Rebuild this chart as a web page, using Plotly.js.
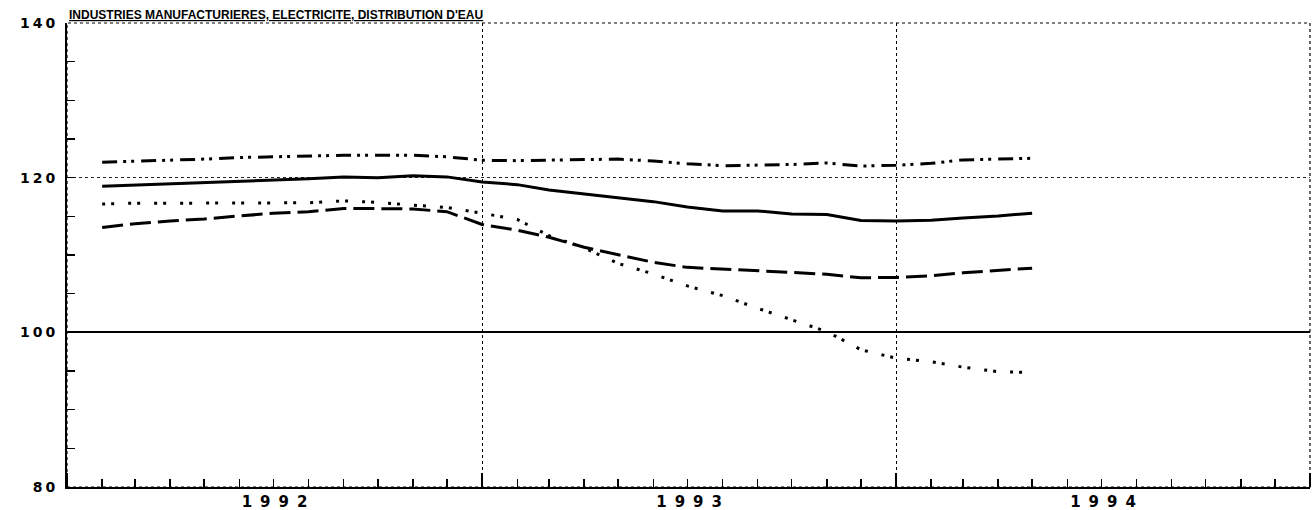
<!DOCTYPE html>
<html><head><meta charset="utf-8">
<script src="https://cdn.plot.ly/plotly-3.0.1.min.js"></script>
<style>
html,body{margin:0;padding:0;background:#fff;}
#chart{width:1316px;height:510px;}
.xtick text{letter-spacing:8px;}
.ytick text{letter-spacing:3px;}
</style></head><body><div id="chart"></div>
<script>
const months = ['1992-02-01','1992-03-01','1992-04-01','1992-05-01','1992-06-01','1992-07-01','1992-08-01','1992-09-01','1992-10-01','1992-11-01','1992-12-01',
  '1993-01-01','1993-02-01','1993-03-01','1993-04-01','1993-05-01','1993-06-01','1993-07-01','1993-08-01','1993-09-01','1993-10-01','1993-11-01','1993-12-01',
  '1994-01-01','1994-02-01','1994-03-01','1994-04-01','1994-05-01'];
const serieMixte = [122.0,122.1,122.25,122.4,122.6,122.7,122.75,122.9,122.9,122.9,122.7,122.25,122.2,122.25,122.3,122.4,122.15,121.8,121.55,121.6,121.7,121.9,121.5,121.6,121.85,122.3,122.45,122.5];
const serieContinue = [118.9,119.05,119.2,119.4,119.55,119.75,119.85,120.1,120.0,120.25,120.1,119.45,119.1,118.4,117.9,117.45,116.9,116.2,115.7,115.7,115.3,115.25,114.45,114.4,114.5,114.8,115.05,115.4];
const seriePointillee = [116.6,116.7,116.7,116.7,116.7,116.7,116.75,117.0,116.8,116.45,116.15,115.4,114.6,112.5,110.9,108.9,107.55,106.0,104.75,103.1,101.6,100.1,97.75,96.65,96.2,95.5,94.9,94.8];
const serieTiretee = [113.55,114.05,114.4,114.65,115.05,115.4,115.6,116.0,116.0,115.95,115.6,113.95,113.2,112.3,111.0,110.0,109.05,108.4,108.2,107.95,107.75,107.5,107.05,107.1,107.3,107.7,108.0,108.3];
const yTickVals = [80,100,120,140];
const titre = "INDUSTRIES MANUFACTURIERES, ELECTRICITE, DISTRIBUTION D'EAU";

const traces = [
  {x: months, y: serieMixte, mode:'lines', line:{color:'#000', width:3, dash:'15px,6px,3px,5px,3px,7px'}},
  {x: months, y: serieContinue, mode:'lines', line:{color:'#000', width:3}},
  {x: months, y: seriePointillee, mode:'lines', line:{color:'#000', width:3, dash:'3px,6px,3px,14px'}},
  {x: months, y: serieTiretee, mode:'lines', line:{color:'#000', width:3, dash:'21px,7px'}},
  {x: months, y: serieContinue, yaxis:'y2', mode:'lines', line:{color:'rgba(0,0,0,0)', width:0}, hoverinfo:'skip'}
];

const layout = {
  width:1316, height:510,
  margin:{l:67, r:6, t:23, b:23, pad:0},
  paper_bgcolor:'#fff', plot_bgcolor:'#fff',
  showlegend:false,
  title:{text:titre, font:{family:'Liberation Sans', size:12, weight:'bold', color:'#000', lineposition:'under'},
    xref:'container', x:69/1316, xanchor:'left', yref:'container', y:1-19/510, yanchor:'bottom', pad:{t:0,b:0,l:0,r:0}},
  shapes:[{type:'rect', xref:'paper', yref:'paper', x0:0, x1:1, y0:0, y1:1, layer:'below',
    line:{color:'#000', width:1.2, dash:'dot'}}],
  xaxis:{type:'date', range:['1992-01-01','1995-01-01'], tick0:'1992-01-01', dtick:'M12', tickformat:'%Y',
    ticklabelmode:'period', ticks:'inside', ticklen:14, tickwidth:1.5, tickcolor:'#000',
    showgrid:true, gridcolor:'#000', griddash:'dot', gridwidth:1,
    showline:true, linewidth:2, linecolor:'#000', zeroline:false, ticklabelshift:4,
    tickfont:{family:'DejaVu Sans', size:15, weight:'bold', color:'#000'},
    minor:{dtick:'M1', tick0:'1992-01-01', ticks:'inside', ticklen:8, tickwidth:1.5, tickcolor:'#000', showgrid:false}},
  yaxis:{range:[80,140], tickvals:yTickVals, ticktext:yTickVals.map(String), ticks:'inside', ticklen:8, tickwidth:1.5, tickcolor:'#000',
    showgrid:true, gridcolor:'#222', griddash:'dot', gridwidth:1,
    showline:true, linewidth:2, linecolor:'#000', zeroline:false, ticklabelstandoff:4,
    tickfont:{family:'DejaVu Sans', size:14, weight:'bold', color:'#000'},
    minor:{dtick:5, tick0:80, ticks:'inside', ticklen:8, tickwidth:1.5, tickcolor:'#000', showgrid:false}},
  yaxis2:{overlaying:'y', range:[80,140], tickvals:[100], showticklabels:false, ticks:'', showline:false, zeroline:false,
    showgrid:true, gridcolor:'#000', gridwidth:2}
};
Plotly.newPlot('chart', traces, layout, {staticPlot:true, displayModeBar:false});
</script></body></html>
